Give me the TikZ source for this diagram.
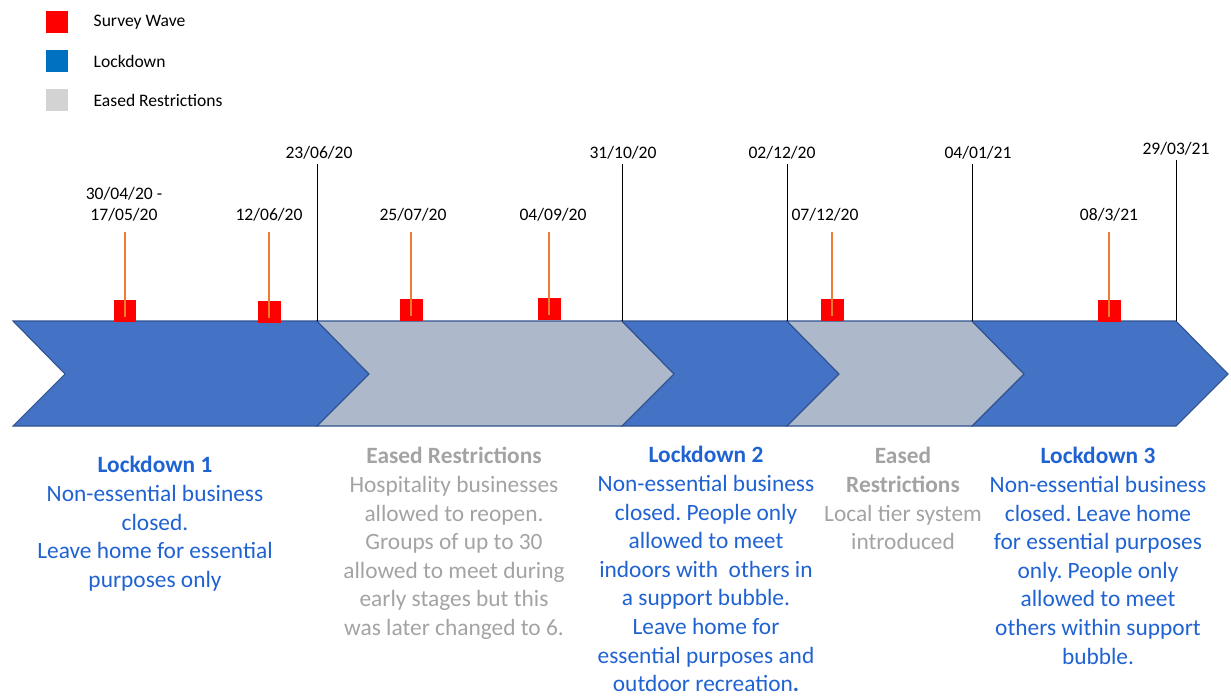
\documentclass[tikz,border=0pt]{standalone}
\usepackage{fontspec}
\setmainfont{Carlito}
\usepackage{xcolor}
\usetikzlibrary{positioning}
\frenchspacing
\definecolor{wavered} {HTML}{FF0000}
\definecolor{lockfill}{HTML}{4472C4}
\definecolor{easefill}{HTML}{ADB9CA}
\definecolor{bandedge}{HTML}{2F528F}
\definecolor{stemcol} {HTML}{ED7D31}
\definecolor{locktext}{HTML}{1F62D2}
\definecolor{easetext}{HTML}{A3A3A3}
\definecolor{keyblue} {HTML}{0070C0}
\definecolor{keygrey} {HTML}{D3D3D3}

\begin{document}
\begin{tikzpicture}[x=0.02cm, y=-0.02cm,
  % One unit is one pixel of the 1231 x 696 frame, y running down.
  keybox/.style={minimum size=0.44cm, inner sep=0pt},
  keytext/.style={font=\fontsize{10}{12}\selectfont, inner sep=0pt, anchor=west},
  wavebox/.style={fill=wavered, minimum size=0.46cm, inner sep=0pt},
  datelbl/.style={font=\fontsize{10}{12}\selectfont, inner sep=0pt, anchor=south, align=center},
  stem/.style={stemcol, line width=1.2pt, shorten >=0.2cm},
  period/.style={black, line width=0.5pt, shorten >=0.08cm},
  lockband/.style={fill=lockfill, draw=bandedge, line width=0.6pt, line join=miter},
  easeband/.style={fill=easefill, draw=bandedge, line width=0.6pt, line join=miter},
  % Description blocks hang from the top of their title.
  lockdesc/.style={font=\fontsize{13.3}{16.3}\selectfont, text=locktext, align=center, inner sep=0pt, anchor=north},
  easedesc/.style={font=\fontsize{13.3}{16.3}\selectfont, text=easetext, align=center, inner sep=0pt, anchor=north}
]
\useasboundingbox (0,0) rectangle (1231,696);

% --- Legend ---
\node[keybox, fill=wavered] (kwave) at (57,22) {};
\node[keybox, fill=keyblue] (klock) at (57,61) {};
\node[keybox, fill=keygrey] (kease) at (57,100) {};
\node[keytext, right=0.5cm of kwave] (twave) {Survey Wave};
\node[keytext, right=0.5cm of klock] (tlock) {Lockdown};
\node[keytext, right=0.5cm of kease] (tease) {Eased Restrictions};

% --- Chevron band ---
\draw[lockband] (13,321) -- (317,321) -- (369,374) -- (317,426) -- (13,426) -- (65,374) -- cycle;
\draw[easeband] (317,321) -- (622,321) -- (674,374) -- (622,426) -- (317,426) -- (369,374) -- cycle;
\draw[lockband] (622,321) -- (787,321) -- (839,374) -- (787,426) -- (622,426) -- (674,374) -- cycle;
\draw[easeband] (787,321) -- (972,321) -- (1024,374) -- (972,426) -- (787,426) -- (839,374) -- cycle;
\draw[lockband] (972,321) -- (1176,321) -- (1228,374) -- (1176,426) -- (972,426) -- (1024,374) -- cycle;

% --- Period boundaries ---
\coordinate (c1) at (317,321);
\coordinate (c2) at (622,321);
\coordinate (c3) at (787,321);
\coordinate (c4) at (972,321);
\coordinate (c5) at (1176,321);
\node[datelbl] (p1) at (319,160) {23/06/20};
\node[datelbl] (p2) at (623,160) {31/10/20};
\node[datelbl] (p3) at (782,160) {02/12/20};
\node[datelbl] (p4) at (978,160) {04/01/21};
\node[datelbl] (p5) at (1176,156) {29/03/21};
\draw[period] (c1) -- (c1 |- p1.south);
\draw[period] (c2) -- (c2 |- p2.south);
\draw[period] (c3) -- (c3 |- p3.south);
\draw[period] (c4) -- (c4 |- p4.south);
\draw[period] (c5) -- (c5 |- p5.south);

% --- Survey waves ---
\node[wavebox] (w1) at (125,311) {};
\node[wavebox] (w2) at (269,312) {};
\node[wavebox] (w3) at (411,310) {};
\node[wavebox] (w4) at (549,309) {};
\node[wavebox] (w5) at (832,310) {};
\node[wavebox] (w6) at (1109,311) {};
\node[datelbl] (d1) at (124,222) {30/04/20 -\\17/05/20};
\node[datelbl] (d2) at (269,222) {12/06/20};
\node[datelbl] (d3) at (413,222) {25/07/20};
\node[datelbl] (d4) at (553,222) {04/09/20};
\node[datelbl] (d5) at (825,222) {07/12/20};
\node[datelbl] (d6) at (1109,222) {08/3/21};
\draw[stem] ([yshift=-0.12cm]w1.center) -- (w1.center |- d1.south);
\draw[stem] ([yshift=-0.12cm]w2.center) -- (w2.center |- d2.south);
\draw[stem] ([yshift=-0.12cm]w3.center) -- (w3.center |- d3.south);
\draw[stem] ([yshift=-0.12cm]w4.center) -- (w4.center |- d4.south);
\draw[stem] ([yshift=-0.12cm]w5.center) -- (w5.center |- d5.south);
\draw[stem] ([yshift=-0.12cm]w6.center) -- (w6.center |- d6.south);

% --- Descriptions ---
\node[lockdesc] (lock1) at (155,456) {\textbf{Lockdown 1}\\Non-essential business\\closed.\\Leave home for essential\\purposes only};
\node[easedesc] (ease1) at (454,447) {\textbf{Eased Restrictions}\\Hospitality businesses\\allowed to reopen.\\Groups of up to 30\\allowed to meet during\\early stages but this\\was later changed to 6.};
\node[lockdesc] (lock2) at (706,446) {\textbf{Lockdown 2}\\Non-essential business\\closed. People only\\allowed to meet\\indoors with\ \ others in\\a support bubble.\\Leave home for\\essential purposes and\\outdoor recreation\textbf{.}};
\node[easedesc] (ease2) at (903,447) {\textbf{Eased}\\\textbf{Restrictions}\\Local tier system\\introduced};
\node[lockdesc] (lock3) at (1098,447) {\textbf{Lockdown 3}\\Non-essential business\\closed. Leave home\\for essential purposes\\only. People only\\allowed to meet\\others within support\\bubble.};

\end{tikzpicture}
\end{document}
